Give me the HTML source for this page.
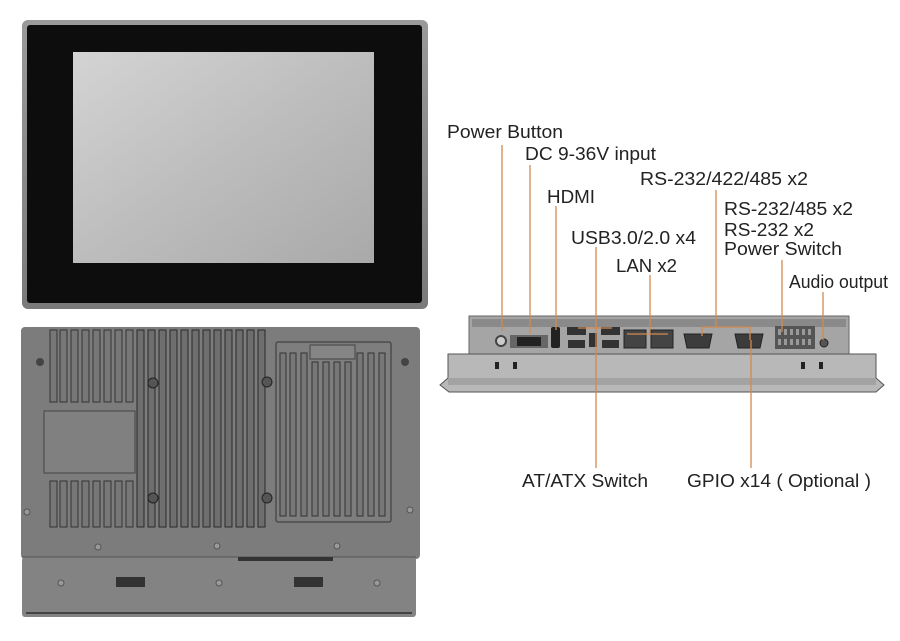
<!DOCTYPE html>
<html><head><meta charset="utf-8"><style>
html,body{margin:0;padding:0;background:#fff;}
svg{display:block;}
text{font-family:"Liberation Sans",Arial,sans-serif;font-size:18px;fill:#222;}
</style></head><body>
<svg width="900" height="641" viewBox="0 0 900 641" xmlns="http://www.w3.org/2000/svg">
<defs>
<linearGradient id="scr" x1="0" y1="0" x2="1" y2="1">
<stop offset="0" stop-color="#d4d4d4"/><stop offset="0.5" stop-color="#bdbdbd"/><stop offset="1" stop-color="#a9a9a9"/>
</linearGradient>
<linearGradient id="bez" x1="0" y1="0" x2="0" y2="1">
<stop offset="0" stop-color="#9a9a9a"/><stop offset="1" stop-color="#7a7a7a"/>
</linearGradient>
</defs>
<!-- front panel -->
<rect x="22" y="20" width="406" height="289" rx="6" fill="url(#bez)"/>
<rect x="27" y="25" width="395" height="278" rx="3" fill="#0d0d0d"/>
<rect x="73" y="52" width="301" height="211" fill="url(#scr)"/>
<!-- back panel -->
<rect x="21" y="327" width="399" height="232" rx="4" fill="#7c7c7c"/>
<rect x="22" y="557" width="394" height="60" rx="3" fill="#838383"/>
<line x1="22" y1="557" x2="416" y2="557" stroke="#555" stroke-width="1"/>
<line x1="26" y1="613" x2="412" y2="613" stroke="#444" stroke-width="2"/>
<!-- left fins top -->
<g fill="#777" stroke="#333" stroke-width="1">
<rect x="50" y="330" width="7" height="72"/><rect x="60" y="330" width="7" height="72"/><rect x="71" y="330" width="7" height="72"/><rect x="82" y="330" width="7" height="72"/><rect x="93" y="330" width="7" height="72"/><rect x="104" y="330" width="7" height="72"/><rect x="115" y="330" width="7" height="72"/><rect x="126" y="330" width="7" height="72"/>
<rect x="50" y="481" width="7" height="46"/><rect x="60" y="481" width="7" height="46"/><rect x="71" y="481" width="7" height="46"/><rect x="82" y="481" width="7" height="46"/><rect x="93" y="481" width="7" height="46"/><rect x="104" y="481" width="7" height="46"/><rect x="115" y="481" width="7" height="46"/><rect x="126" y="481" width="7" height="46"/>
</g>
<rect x="44" y="411" width="91" height="62" fill="#808080" stroke="#444" stroke-width="1"/>
<!-- middle fins -->
<g fill="#6e6e6e" stroke="#2a2a2a" stroke-width="1">
<rect x="137" y="330" width="7" height="197"/><rect x="148" y="330" width="7" height="197"/><rect x="159" y="330" width="7" height="197"/><rect x="170" y="330" width="7" height="197"/><rect x="181" y="330" width="7" height="197"/><rect x="192" y="330" width="7" height="197"/><rect x="203" y="330" width="7" height="197"/><rect x="214" y="330" width="7" height="197"/><rect x="225" y="330" width="7" height="197"/><rect x="236" y="330" width="7" height="197"/><rect x="247" y="330" width="7" height="197"/><rect x="258" y="330" width="7" height="197"/>
</g>
<g fill="#555" stroke="#222"><circle cx="153" cy="383" r="5"/><circle cx="267" cy="382" r="5"/><circle cx="153" cy="498" r="5"/><circle cx="267" cy="498" r="5"/></g>
<!-- right panel -->
<rect x="276" y="342" width="115" height="180" rx="2" fill="#7e7e7e" stroke="#333"/>
<g fill="#777" stroke="#333" stroke-width="1">
<rect x="280" y="353" width="6" height="163"/><rect x="290" y="353" width="6" height="163"/><rect x="301" y="353" width="6" height="163"/><rect x="312" y="362" width="6" height="154"/><rect x="323" y="362" width="6" height="154"/><rect x="334" y="362" width="6" height="154"/><rect x="345" y="362" width="6" height="154"/><rect x="357" y="353" width="6" height="163"/><rect x="368" y="353" width="6" height="163"/><rect x="379" y="353" width="6" height="163"/>
</g>
<rect x="310" y="345" width="45" height="14" fill="#858585" stroke="#444"/>
<g fill="#444"><circle cx="40" cy="362" r="4"/><circle cx="405" cy="362" r="4"/></g>
<g fill="#999" stroke="#555"><circle cx="27" cy="512" r="3"/><circle cx="410" cy="510" r="3"/><circle cx="98" cy="547" r="3"/><circle cx="217" cy="546" r="3"/><circle cx="337" cy="546" r="3"/><circle cx="61" cy="583" r="3"/><circle cx="219" cy="583" r="3"/><circle cx="377" cy="583" r="3"/></g>
<g fill="#333"><rect x="116" y="577" width="29" height="10"/><rect x="294" y="577" width="29" height="10"/><rect x="238" y="557" width="95" height="4"/></g>
<!-- side view -->
<rect x="469" y="316" width="380" height="38" fill="#a5a5a5" stroke="#666"/>
<rect x="472" y="319" width="374" height="8" fill="#8a8a8a"/>
<path d="M448 354 L876 354 L876 378 L884 385 L876 392 L449 392 L440 385 L448 378 Z" fill="#b8b8b8" stroke="#555"/>
<rect x="448" y="378" width="428" height="7" fill="#a3a3a3"/>
<g fill="#222"><rect x="495" y="362" width="4" height="7"/><rect x="513" y="362" width="4" height="7"/><rect x="801" y="362" width="4" height="7"/><rect x="819" y="362" width="4" height="7"/></g>
<!-- ports -->
<circle cx="501" cy="341" r="5" fill="#ccc" stroke="#444" stroke-width="2"/>
<rect x="510" y="335" width="38" height="13" fill="#666"/><rect x="517" y="337" width="24" height="9" fill="#222"/>
<rect x="551" y="327" width="9" height="21" rx="2" fill="#222"/>
<g fill="#333"><rect x="567" y="327" width="19" height="8"/><rect x="601" y="327" width="19" height="8"/><rect x="568" y="340" width="17" height="8"/><rect x="602" y="340" width="17" height="8"/><rect x="589" y="333" width="8" height="14"/></g>
<g fill="#444" stroke="#222"><rect x="624" y="330" width="22" height="18"/><rect x="651" y="330" width="22" height="18"/></g>
<g fill="#3c3c3c" stroke="#222"><path d="M684 334 L712 334 L709 348 L687 348 Z"/><path d="M735 334 L763 334 L760 348 L738 348 Z"/></g>
<rect x="775" y="326" width="40" height="23" fill="#555"/>
<g fill="#999"><rect x="778" y="329" width="3" height="6"/><rect x="784" y="329" width="3" height="6"/><rect x="790" y="329" width="3" height="6"/><rect x="796" y="329" width="3" height="6"/><rect x="802" y="329" width="3" height="6"/><rect x="808" y="329" width="3" height="6"/><rect x="778" y="339" width="3" height="6"/><rect x="784" y="339" width="3" height="6"/><rect x="790" y="339" width="3" height="6"/><rect x="796" y="339" width="3" height="6"/><rect x="802" y="339" width="3" height="6"/><rect x="808" y="339" width="3" height="6"/></g>
<circle cx="824" cy="343" r="4" fill="#555" stroke="#222"/>
<!-- leader lines -->
<g stroke="#d08a50" stroke-width="1.3" fill="none">
<path d="M502 145 V331"/>
<path d="M530 165 V334"/>
<path d="M556 206 V330"/>
<path d="M596 247 V340"/><path d="M578 328 H612"/>
<path d="M596 340 V468"/>
<path d="M650 275 V334"/><path d="M627 334 H668"/>
<path d="M716 190 V327"/><path d="M702 327 H750 V340"/><path d="M702 327 V336"/>
<path d="M751 340 V468"/>
<path d="M782 260 V332"/>
<path d="M823 292 V340"/>
</g>
<!-- labels -->
<text x="447" y="138" textLength="116" lengthAdjust="spacingAndGlyphs">Power Button</text>
<text x="525" y="160" textLength="131" lengthAdjust="spacingAndGlyphs">DC 9-36V input</text>
<text x="640" y="185" textLength="168" lengthAdjust="spacingAndGlyphs">RS-232/422/485 x2</text>
<text x="547" y="203" textLength="48" lengthAdjust="spacingAndGlyphs">HDMI</text>
<text x="724" y="215" textLength="129" lengthAdjust="spacingAndGlyphs">RS-232/485 x2</text>
<text x="724" y="236" textLength="90" lengthAdjust="spacingAndGlyphs">RS-232 x2</text>
<text x="571" y="244" textLength="125" lengthAdjust="spacingAndGlyphs">USB3.0/2.0 x4</text>
<text x="724" y="255" textLength="118" lengthAdjust="spacingAndGlyphs">Power Switch</text>
<text x="616" y="272" textLength="61" lengthAdjust="spacingAndGlyphs">LAN x2</text>
<text x="789" y="288" textLength="99" lengthAdjust="spacingAndGlyphs">Audio output</text>
<text x="522" y="487" textLength="126" lengthAdjust="spacingAndGlyphs">AT/ATX Switch</text>
<text x="687" y="487" textLength="184" lengthAdjust="spacingAndGlyphs">GPIO x14 ( Optional )</text>
</svg>
</body></html>
